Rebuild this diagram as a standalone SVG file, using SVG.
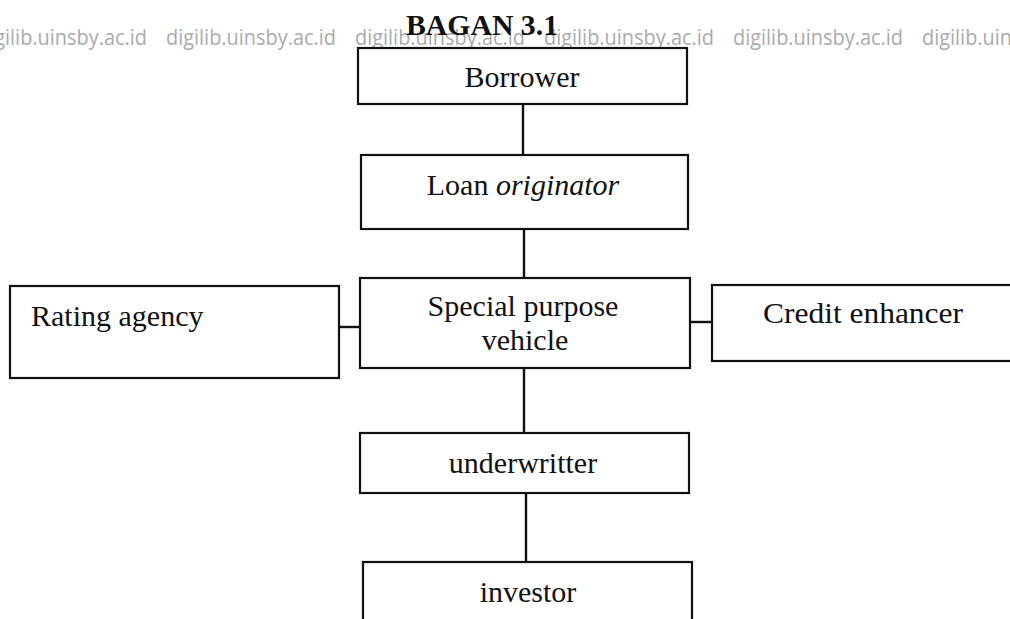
<svg xmlns="http://www.w3.org/2000/svg" width="1010" height="619" viewBox="0 0 1010 619">
<style>
.wm{font-family:"Open Sans","DejaVu Sans",sans-serif;font-size:22px;fill:#ababab}
.box{fill:#fff;stroke:#111;stroke-width:2.2}
.lbl{font-family:"Liberation Serif","Times New Roman",serif;font-size:30px;fill:#111}
.ttl{font-family:"Liberation Serif","Times New Roman",serif;font-size:30px;font-weight:bold;fill:#111}
.con{stroke:#111;stroke-width:2.4;fill:none}
</style>
<rect width="1010" height="619" fill="#fff"/>
<g id="watermark">
<text class="wm" x="-23" y="45" textLength="170" lengthAdjust="spacingAndGlyphs">digilib.uinsby.ac.id</text>
<text class="wm" x="166" y="45" textLength="170" lengthAdjust="spacingAndGlyphs">digilib.uinsby.ac.id</text>
<text class="wm" x="355" y="45" textLength="170" lengthAdjust="spacingAndGlyphs">digilib.uinsby.ac.id</text>
<text class="wm" x="544" y="45" textLength="170" lengthAdjust="spacingAndGlyphs">digilib.uinsby.ac.id</text>
<text class="wm" x="733" y="45" textLength="170" lengthAdjust="spacingAndGlyphs">digilib.uinsby.ac.id</text>
<text class="wm" x="922" y="45" textLength="170" lengthAdjust="spacingAndGlyphs">digilib.uinsby.ac.id</text>
</g>
<text id="title" class="ttl" x="406" y="35" textLength="152" lengthAdjust="spacingAndGlyphs">BAGAN 3.1</text>
<g id="connectors">
<line class="con" x1="523" y1="104" x2="523" y2="155"/>
<line class="con" x1="524" y1="229" x2="524" y2="278"/>
<line class="con" x1="524" y1="368" x2="524" y2="433"/>
<line class="con" x1="526" y1="493" x2="526" y2="562"/>
<line class="con" x1="339" y1="327" x2="360" y2="327"/>
<line class="con" x1="690" y1="322" x2="712" y2="322"/>
</g>
<g id="borrower">
<rect class="box" x="358" y="48" width="329" height="56"/>
<text class="lbl" x="522" y="87" text-anchor="middle">Borrower</text>
</g>
<g id="loan-originator">
<rect class="box" x="361" y="155" width="327" height="74"/>
<text class="lbl" x="523" y="195" text-anchor="middle">Loan <tspan font-style="italic">originator</tspan></text>
</g>
<g id="rating-agency">
<rect class="box" x="10" y="286" width="329" height="92"/>
<text class="lbl" x="31" y="326">Rating agency</text>
</g>
<g id="special-purpose-vehicle">
<rect class="box" x="360" y="278" width="330" height="90"/>
<text class="lbl" x="523" y="316" text-anchor="middle">Special purpose</text>
<text class="lbl" x="525" y="350" text-anchor="middle">vehicle</text>
</g>
<g id="credit-enhancer">
<rect class="box" x="712" y="285" width="310" height="76"/>
<text class="lbl" x="763" y="323" textLength="200" lengthAdjust="spacingAndGlyphs">Credit enhancer</text>
</g>
<g id="underwritter">
<rect class="box" x="360" y="433" width="329" height="60"/>
<text class="lbl" x="523" y="473" text-anchor="middle">underwritter</text>
</g>
<g id="investor">
<rect class="box" x="363" y="562" width="329" height="70"/>
<text class="lbl" x="528" y="602" text-anchor="middle">investor</text>
</g>
</svg>
